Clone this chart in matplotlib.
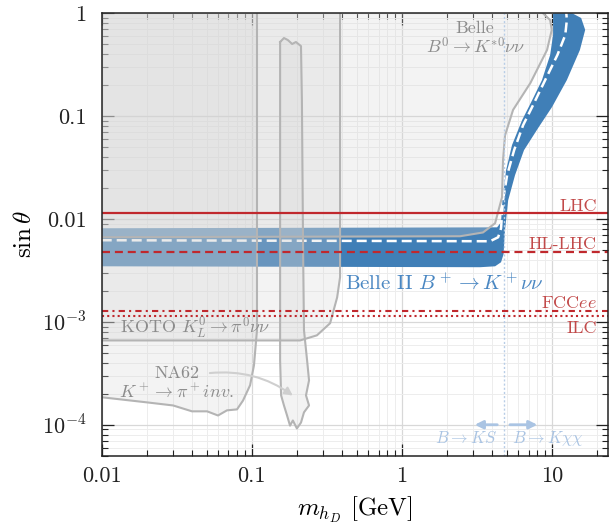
import numpy as np
import matplotlib
matplotlib.use("Agg")
import matplotlib.pyplot as plt
from matplotlib.patches import Polygon
from matplotlib.ticker import FixedLocator, FixedFormatter, LogLocator, NullFormatter

plt.rcParams["font.family"] = "serif"
plt.rcParams["font.serif"] = ["cmr10"]
plt.rcParams["mathtext.fontset"] = "cm"
plt.rcParams["axes.unicode_minus"] = False

# ---------------- data ----------------
# Belle II B+ -> K+ nu nu preferred band (outer = bottom/right edge, inner = top/left edge)
band_outer_m = [0.01, 3.33, 4.19, 4.59, 4.77, 4.88, 5.12, 5.69, 6.53, 8.1, 10.05, 12.6, 15.4, 16.7, 15.7, 13.7]
band_outer_s = [3.47e-3, 3.40e-3, 3.47e-3, 3.80e-3, 4.54e-3, 7.78e-3, 0.0152, 0.0267, 0.0467, 0.0764, 0.123, 0.224, 0.44, 0.69, 0.90, 1.0]
band_inner_m = [10.2, 10.2, 9.75, 8.6, 7.4, 6.34, 5.43, 4.96, 4.69, 4.59, 4.32, 0.01]
band_inner_s = [1.0, 0.615, 0.393, 0.224, 0.143, 0.0915, 0.0523, 0.0299, 0.0152, 9.3e-3, 8.3e-3, 8.13e-3]
# central value of the band
band_mid_m = [0.01, 3.88, 4.39, 4.59, 4.73, 5.04, 5.61, 6.44, 7.5, 9.03, 10.9, 12.3, 12.6, 12.5]
band_mid_s = [6.22e-3, 6.08e-3, 6.65e-3, 8.13e-3, 0.0152, 0.0267, 0.0467, 0.0817, 0.128, 0.224, 0.393, 0.615, 0.86, 1.0]

# Belle B0 -> K*0 nu nu exclusion contour
belle_m = [8.75, 9.75, 10.0, 9.3, 7.2, 5.52, 4.88, 4.73, 4.66, 4.19, 3.48, 2.45, 0.01]
belle_s = [1.0, 0.86, 0.69, 0.44, 0.21, 0.115, 0.065, 0.037, 0.0163, 9.1e-3, 7.4e-3, 6.8e-3, 6.65e-3]

# KOTO K_L -> pi0 nu nu exclusion contour
koto_m = [0.01, 0.21, 0.272, 0.333, 0.371, 0.388, 0.388]
koto_s = [6.6e-4, 6.6e-4, 7.4e-4, 9.7e-4, 1.73e-3, 2.72e-3, 1.0]

# NA62 K+ -> pi+ inv. exclusion contours (low-mass region and the window above the pion mass)
na62_m = [0.01, 0.02, 0.0299, 0.04, 0.0504, 0.0596, 0.0684, 0.0798, 0.0875, 0.0975, 0.1035, 0.1084, 0.1084]
na62_s = [1.85e-4, 1.65e-4, 1.54e-4, 1.35e-4, 1.35e-4, 1.23e-4, 1.38e-4, 1.41e-4, 1.72e-4, 2.42e-4, 3.78e-4, 8.3e-4, 1.0]
na62b_m = [0.1546, 0.164, 0.174, 0.186, 0.197, 0.213, 0.216, 0.22, 0.223, 0.234, 0.241, 0.23, 0.241,
           0.223, 0.213, 0.2, 0.188, 0.18, 0.172, 0.164, 0.157, 0.1546]
na62b_s = [0.526, 0.575, 0.55, 0.503, 0.526, 0.48, 0.143, 4.97e-3, 8.3e-4, 4.2e-4, 2.7e-4, 1.93e-4, 1.54e-4,
           1.32e-4, 1.05e-4, 9.2e-5, 1.1e-4, 9.8e-5, 1.23e-4, 1.54e-4, 1.93e-4, 4.2e-4]

# collider projections
lhc_s = 0.0114
hllhc_s = 4.75e-3
fccee_s = 1.27e-3
ilc_s = 1.15e-3

# B -> K kinematic threshold  (m_B - m_K)
m_thr = 4.785

xticks = [0.01, 0.1, 1, 10]
xticklabels = ["0.01", "0.1", "1", "10"]
yticks = [1e-4, 1e-3, 1e-2, 1e-1, 1]
yticklabels = [r"$10^{-4}$", r"$10^{-3}$", "0.01", "0.1", "1"]

# ---------------- figure ----------------
W, H = 609, 529
fig = plt.figure(figsize=(W / 100, H / 100), dpi=100)
ax = fig.add_axes([101.7 / W, (H - 455.7) / H, (608 - 101.7) / W, (455.7 - 13.3) / H])
ax.set_xscale("log")
ax.set_yscale("log")
ax.set_xlim(0.01, 23.7)
ax.set_ylim(5e-5, 1)

ax.grid(which="major", color="#d8d8d8", lw=0.9, zorder=0)
ax.grid(which="minor", color="#ededed", lw=0.7, zorder=0)
ax.set_axisbelow(True)

blue = "#407fb7"
red = "#c0282d"
gline = "#b4b4b4"
shade = "#d4d4d4"

# Belle II band
band_m = band_outer_m + band_inner_m
band_s = band_outer_s + band_inner_s
ax.add_patch(Polygon(np.column_stack([band_m, band_s]), closed=True, facecolor=blue,
                     edgecolor="none", zorder=2))
ax.plot(band_mid_m, band_mid_s, color="white", lw=1.8, ls=(0, (4, 2)), zorder=3)

# exclusion regions (translucent so overlaps darken)
ax.add_patch(Polygon(np.column_stack([belle_m + [0.01], belle_s + [1.0]]), closed=True,
                     facecolor=shade, alpha=0.27, edgecolor="none", zorder=4))
ax.add_patch(Polygon(np.column_stack([koto_m + [0.01], koto_s + [1.0]]), closed=True,
                     facecolor=shade, alpha=0.27, edgecolor="none", zorder=4))
ax.add_patch(Polygon(np.column_stack([na62_m + [0.01], na62_s + [1.0]]), closed=True,
                     facecolor=shade, alpha=0.27, edgecolor="none", zorder=4))
ax.add_patch(Polygon(np.column_stack([na62b_m, na62b_s]), closed=True,
                     facecolor=shade, alpha=0.27, edgecolor="none", zorder=4))
ax.plot(belle_m, belle_s, color=gline, lw=1.5, zorder=5)
ax.plot(koto_m, koto_s, color=gline, lw=1.5, zorder=5)
ax.plot(na62_m, na62_s, color=gline, lw=1.5, zorder=5)
ax.plot(na62b_m + [na62b_m[0]], na62b_s + [na62b_s[0]], color=gline, lw=1.5, zorder=5)

# threshold line
ax.axvline(m_thr, color="#b8cde6", lw=1.0, ls=(0, (1.5, 1.5)), zorder=5)

# collider lines
ax.axhline(lhc_s, color=red, lw=1.6, zorder=6)
ax.axhline(hllhc_s, color=red, lw=1.6, ls=(0, (3.6, 2.2)), zorder=6)
ax.axhline(fccee_s, color=red, lw=1.5, ls=(0, (3, 2, 1, 2)), zorder=6)
ax.axhline(ilc_s, color=red, lw=1.5, ls=(0, (1, 1.5)), zorder=6)

lab_red = "#c24a4a"
ax.text(20.0, 0.0120, "LHC", color=lab_red, fontsize=13, ha="right", va="baseline", zorder=7)
ax.text(20.0, 5.15e-3, "HL-LHC", color=lab_red, fontsize=13, ha="right", va="baseline", zorder=7)
ax.text(20.0, 1.36e-3, r"FCC$ee$", color=lab_red, fontsize=13, ha="right", va="baseline", zorder=7)
ax.text(20.0, 7.74e-4, "ILC", color=lab_red, fontsize=13, ha="right", va="baseline", zorder=7)

ax.text(0.418, 2.03e-3, r"Belle II $B^+\to K^+\nu\nu$", color="#4a87c2", fontsize=15,
        ha="left", va="baseline", zorder=7)

glab = "#8c8c8c"
ax.text(3.08, 0.643, "Belle", color=glab, fontsize=13, ha="center", va="baseline", zorder=7)
ax.text(3.08, 0.41, r"$B^0\to K^{*0}\nu\nu$", color=glab, fontsize=13, ha="center", va="baseline", zorder=7)
ax.text(0.01324, 7.74e-4, r"KOTO $K_L^0\to\pi^0\nu\nu$", color=glab, fontsize=13,
        ha="left", va="baseline", zorder=7)
ax.text(0.0318, 2.82e-4, "NA62", color=glab, fontsize=13, ha="center", va="baseline", zorder=7)
ax.text(0.0318, 1.85e-4, r"$K^+\to\pi^+ inv.$", color=glab, fontsize=13, ha="center", va="baseline", zorder=7)
ax.annotate("", xy=(0.1945, 1.85e-4), xytext=(0.0504, 3.16e-4),
            arrowprops=dict(arrowstyle="-|>", color="#cfcfcf", lw=1.5,
                            connectionstyle="arc3,rad=-0.2", mutation_scale=12), zorder=7)

# B -> K S / B -> K chi chi arrows
lblue = "#aac4e3"
ax.annotate("", xy=(2.94, 1.0e-4), xytext=(4.52, 1.0e-4),
            arrowprops=dict(arrowstyle="-|>", color=lblue, lw=2, mutation_scale=12), zorder=7)
ax.annotate("", xy=(8.36, 1.0e-4), xytext=(5.04, 1.0e-4),
            arrowprops=dict(arrowstyle="-|>", color=lblue, lw=2, mutation_scale=12), zorder=7)
ax.text(4.32, 6.6e-5, r"$B\to KS$", color=lblue, fontsize=12, ha="right", va="baseline", zorder=7)
ax.text(5.43, 6.6e-5, r"$B\to K\chi\chi$", color=lblue, fontsize=12, ha="left", va="baseline", zorder=7)

# axes, ticks
ax.xaxis.set_major_locator(FixedLocator(xticks))
ax.xaxis.set_major_formatter(FixedFormatter(xticklabels))
ax.yaxis.set_major_locator(FixedLocator(yticks))
ax.yaxis.set_major_formatter(FixedFormatter(yticklabels))
ax.xaxis.set_minor_locator(LogLocator(base=10, subs=np.arange(2, 10), numticks=20))
ax.yaxis.set_minor_locator(LogLocator(base=10, subs=np.arange(2, 10), numticks=20))
ax.xaxis.set_minor_formatter(NullFormatter())
ax.yaxis.set_minor_formatter(NullFormatter())
ax.tick_params(which="both", direction="in", top=True, right=True, colors="#222222")
ax.tick_params(which="major", length=8.5, width=0.9, labelsize=16)
ax.tick_params(axis="x", which="major", pad=8)
ax.tick_params(axis="y", which="major", pad=11)
ax.tick_params(which="minor", length=4, width=0.8)
for sp in ax.spines.values():
    sp.set_linewidth(1.1)
    sp.set_color("#222222")
    sp.set_zorder(10)

ax.set_xlabel(r"$m_{h_D}$ [GeV]", fontsize=18, labelpad=6)
ax.set_ylabel(r"$\sin\theta$", fontsize=18, labelpad=4)

fig.savefig("out.png", dpi=100)
